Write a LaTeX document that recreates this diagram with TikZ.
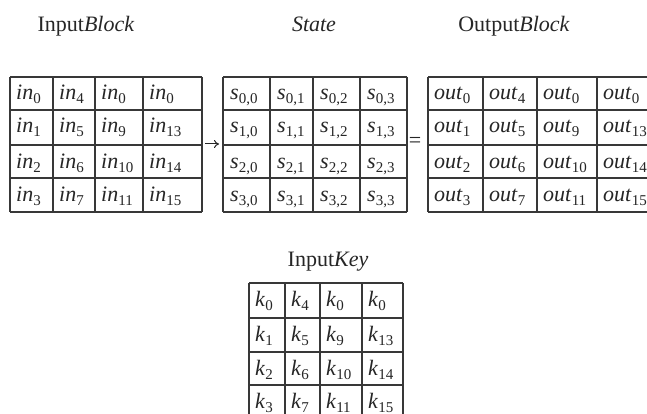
\documentclass[tikz,border=0pt]{standalone}
\usepackage{fontspec}
\setmainfont{Liberation Serif}
\usetikzlibrary{arrows.meta}
\newcommand\lowsub[1]{\raisebox{-4pt}{\fontsize{15}{16}\selectfont #1}}
\begin{document}
\begin{tikzpicture}[x=1pt,y=-1pt,
  gridline/.style={line width=1.4pt,draw=black!78},
  celltxt/.style={anchor=base west,inner sep=0pt,font=\fontsize{22}{24}\selectfont,text=black!85},
  title/.style={anchor=base,inner sep=0pt,font=\fontsize{22}{24}\selectfont,text=black!85},
  sym/.style={inner sep=0pt,font=\fontsize{22}{24}\selectfont,text=black!85}]
\useasboundingbox (0,0) rectangle (647,414);
\clip (0,0) rectangle (647,414);
\fill[white] (0,0) rectangle (647,414);
% titles
\node[title] (tin) at (86,32) {Input\textit{Block}};
\node[title] (tst) at (314,32) {\textit{State}};
\node[title] (tout) at (514,32) {Output\textit{Block}};
\node[title] (tkey) at (328,266) {Input\textit{Key}};
% input grid
\foreach \x in {10,53,95,143,202} \draw[gridline] (\x,77) -- (\x,212);
\foreach \y in {77,110,145,178,212} \draw[gridline] (10,\y) -- (202,\y);
\foreach \r/\y/\a/\b/\c/\d in {0/100/0/4/0/0,1/133/1/5/9/13,2/168/2/6/10/14,3/201/3/7/11/15}{
  \node[celltxt] (in-\r-0) at (16,\y) {\textit{in}\lowsub{\a}};
  \node[celltxt] (in-\r-1) at (59,\y) {\textit{in}\lowsub{\b}};
  \node[celltxt] (in-\r-2) at (101,\y) {\textit{in}\lowsub{\c}};
  \node[celltxt] (in-\r-3) at (149,\y) {\textit{in}\lowsub{\d}};
}
% state grid
\foreach \x in {223,270,313,360,407} \draw[gridline] (\x,77) -- (\x,212);
\foreach \y in {77,110,145,178,212} \draw[gridline] (223,\y) -- (407,\y);
\foreach \r/\y in {0/100,1/133,2/168,3/201}{
  \node[celltxt] (s-\r-0) at (230,\y) {\textit{s}\lowsub{\r,0}};
  \node[celltxt] (s-\r-1) at (277,\y) {\textit{s}\lowsub{\r,1}};
  \node[celltxt] (s-\r-2) at (320,\y) {\textit{s}\lowsub{\r,2}};
  \node[celltxt] (s-\r-3) at (367,\y) {\textit{s}\lowsub{\r,3}};
}
% output grid
\foreach \x in {428,483,537,597,657} \draw[gridline] (\x,77) -- (\x,212);
\foreach \y in {77,110,145,178,212} \draw[gridline] (428,\y) -- (657,\y);
\foreach \r/\y/\a/\b/\c/\d in {0/100/0/4/0/0,1/133/1/5/9/13,2/168/2/6/10/14,3/201/3/7/11/15}{
  \node[celltxt] (o-\r-0) at (434,\y) {\textit{out}\lowsub{\a}};
  \node[celltxt] (o-\r-1) at (489,\y) {\textit{out}\lowsub{\b}};
  \node[celltxt] (o-\r-2) at (543,\y) {\textit{out}\lowsub{\c}};
  \node[celltxt] (o-\r-3) at (603,\y) {\textit{out}\lowsub{\d}};
}
% key grid
\foreach \x in {249,285,320,362,403} \draw[gridline] (\x,283) -- (\x,419);
\foreach \y in {283,318,352,385,419} \draw[gridline] (249,\y) -- (403,\y);
\foreach \r/\y/\a/\b/\c/\d in {0/306/0/4/0/0,1/341/1/5/9/13,2/375/2/6/10/14,3/408/3/7/11/15}{
  \node[celltxt] (k-\r-0) at (255,\y) {\textit{k}\lowsub{\a}};
  \node[celltxt] (k-\r-1) at (291,\y) {\textit{k}\lowsub{\b}};
  \node[celltxt] (k-\r-2) at (326,\y) {\textit{k}\lowsub{\c}};
  \node[celltxt] (k-\r-3) at (368,\y) {\textit{k}\lowsub{\d}};
}
% arrow and equals
\coordinate (arrA) at (205,144);
\coordinate (arrB) at (219,144);
\draw[line width=1pt,draw=black!85,-{To[length=5pt,width=8pt]}] (arrA) -- (arrB);
\node[sym] (eq) at (415,142) {=};
\end{tikzpicture}
\end{document}
